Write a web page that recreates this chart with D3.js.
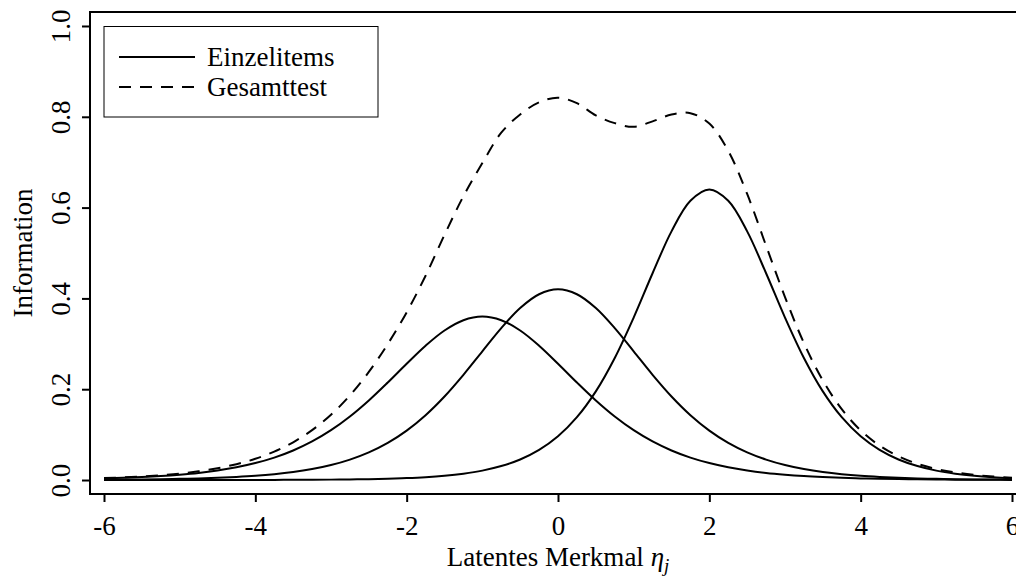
<!DOCTYPE html>
<html><head><meta charset="utf-8">
<script src="https://cdn.jsdelivr.net/npm/d3@7"></script>
<style>body{margin:0;background:#fff}svg{display:block}text{font-family:"Liberation Serif","Times New Roman",serif !important;fill:#000}</style>
</head><body><svg id="c" width="1016" height="580"></svg>
<script>
// latent trait grid (step 0.25)
const theta = [-6,-5.75,-5.5,-5.25,-5,-4.75,-4.5,-4.25,-4,-3.75,-3.5,-3.25,-3,-2.75,-2.5,-2.25,-2,-1.75,-1.5,-1.25,-1,-0.75,-0.5,-0.25,0,0.25,0.5,0.75,1,1.25,1.5,1.75,2,2.25,2.5,2.75,3,3.25,3.5,3.75,4,4.25,4.5,4.75,5,5.25,5.5,5.75,6];
// item information curves
const item1 = [0.0036,0.0048,0.0065,0.0087,0.0117,0.0156,0.0210,0.0280,0.0373,0.0494,0.0651,0.0850,0.1098,0.1400,0.1753,0.2148,0.2562,0.2959,0.3294,0.3520,0.3600,0.3520,0.3294,0.2959,0.2562,0.2148,0.1753,0.1400,0.1098,0.0850,0.0651,0.0494,0.0373,0.0280,0.0210,0.0156,0.0117,0.0087,0.0065,0.0048,0.0036,0.0026,0.0020,0.0015,0.0011,0.0008,0.0006,0.0004,0.0003];
const item2 = [0.0007,0.0010,0.0014,0.0019,0.0026,0.0035,0.0049,0.0068,0.0093,0.0128,0.0176,0.0242,0.0330,0.0450,0.0609,0.0818,0.1089,0.1428,0.1840,0.2317,0.2834,0.3345,0.3788,0.4092,0.4200,0.4092,0.3788,0.3345,0.2834,0.2317,0.1840,0.1428,0.1089,0.0818,0.0609,0.0450,0.0330,0.0242,0.0176,0.0128,0.0093,0.0068,0.0049,0.0035,0.0026,0.0019,0.0014,0.0010,0.0007];
const item3 = [0.00001,0.00001,0.00002,0.00003,0.00004,0.00005,0.00008,0.00012,0.00017,0.00026,0.00039,0.00058,0.00086,0.00128,0.00191,0.00285,0.00424,0.0063,0.0094,0.0140,0.0207,0.0307,0.0452,0.0663,0.0963,0.1383,0.1952,0.2688,0.3578,0.4554,0.5476,0.6151,0.6400,0.6151,0.5476,0.4554,0.3578,0.2688,0.1952,0.1383,0.0963,0.0663,0.0452,0.0307,0.0207,0.0140,0.0094,0.0063,0.0042];
// total test information (dashed)
const total = [0.0043,0.0058,0.0078,0.0106,0.0142,0.0192,0.0260,0.0349,0.0467,0.0625,0.0831,0.1098,0.1437,0.1863,0.2381,0.2995,0.3693,0.4500,0.5400,0.6250,0.6980,0.7650,0.8050,0.8320,0.8420,0.8300,0.8030,0.7860,0.7780,0.7900,0.8050,0.8080,0.7850,0.7250,0.6300,0.5160,0.4030,0.3017,0.2193,0.1559,0.1092,0.0757,0.0521,0.0357,0.0244,0.0167,0.0114,0.0077,0.0052];
const xTicks = [-6,-4,-2,0,2,4,6];
const yTicks = [0,0.2,0.4,0.6,0.8,1.0];
const legendLabels = ["Einzelitems","Gesamttest"];

const svg = d3.select("#c");
const x = d3.scaleLinear().domain([-6.185,6.185]).range([90,1026]);
const y = d3.scaleLinear().domain([-0.0308,1.0308]).range([494,12]);
const FS = 27;
const FF = '"Liberation Serif","Times New Roman",serif';

svg.append("clipPath").attr("id","clip").append("rect")
  .attr("x",90).attr("y",12).attr("width",936).attr("height",482);

const line = d3.line().x(d=>x(d[0])).y(d=>y(d[1])).curve(d3.curveCatmullRom.alpha(0.5));
const g = svg.append("g").attr("clip-path","url(#clip)");
[item1,item2,item3].forEach(s=>{
  g.append("path").attr("d",line(theta.map((t,i)=>[t,s[i]])))
   .attr("fill","none").attr("stroke","#000").attr("stroke-width",2);
});
g.append("path").attr("d",line(theta.map((t,i)=>[t,total[i]])))
  .attr("fill","none").attr("stroke","#000").attr("stroke-width",2).attr("stroke-dasharray","12,9");

// box
svg.append("rect").attr("x",90).attr("y",12).attr("width",936).attr("height",482)
  .attr("fill","none").attr("stroke","#000").attr("stroke-width",2);

// x axis
const xa = svg.append("g").attr("transform","translate(0,494)")
  .call(d3.axisBottom(x).tickValues(xTicks).tickSize(8));
xa.attr("font-family",null).attr("font-size",null);
xa.select(".domain").remove();
xa.selectAll(".tick line").attr("stroke","#000").attr("stroke-width",2);
xa.selectAll(".tick text").style("font-family",FF).style("font-size",FS+"px").attr("y",null).attr("dy",null)
  .attr("transform","translate(0,41)")
  .text(d=>d<0?"-"+Math.abs(d):String(d));

// y axis
const ya = svg.append("g").attr("transform","translate(90,0)")
  .call(d3.axisLeft(y).tickValues(yTicks).tickSize(8).tickFormat(d3.format(".1f")));
ya.attr("font-family",null).attr("font-size",null);
ya.select(".domain").remove();
ya.selectAll(".tick line").attr("stroke","#000").attr("stroke-width",2);
ya.selectAll(".tick text").style("font-family",FF).style("font-size",FS+"px")
  .attr("x",null).attr("dy",null).attr("text-anchor","middle")
  .attr("transform","translate(-20,0) rotate(-90)");

// axis titles
const xt = svg.append("text").attr("x",558).attr("y",566).attr("text-anchor","middle").style("font-size",FS+"px");
xt.append("tspan").text("Latentes Merkmal ");
xt.append("tspan").attr("font-style","italic").text("η");
xt.append("tspan").attr("font-style","italic").style("font-size","19px").attr("dy",6).text("j");
svg.append("text").attr("transform","translate(32,253) rotate(-90)").attr("text-anchor","middle")
  .style("font-size",FS+"px").text("Information");

// legend
svg.append("rect").attr("x",104).attr("y",26.5).attr("width",274).attr("height",90.5)
  .attr("fill","#fff").attr("stroke","#000").attr("stroke-width",1);
const ly = [57,87];
legendLabels.forEach((l,i)=>{
  svg.append("line").attr("x1",119).attr("x2",195).attr("y1",ly[i]).attr("y2",ly[i])
    .attr("stroke","#000").attr("stroke-width",2).attr("stroke-dasharray",i?"12,9":null);
  svg.append("text").attr("x",207).attr("y",ly[i]+9).style("font-size",FS+"px").text(l);
});
</script></body></html>
